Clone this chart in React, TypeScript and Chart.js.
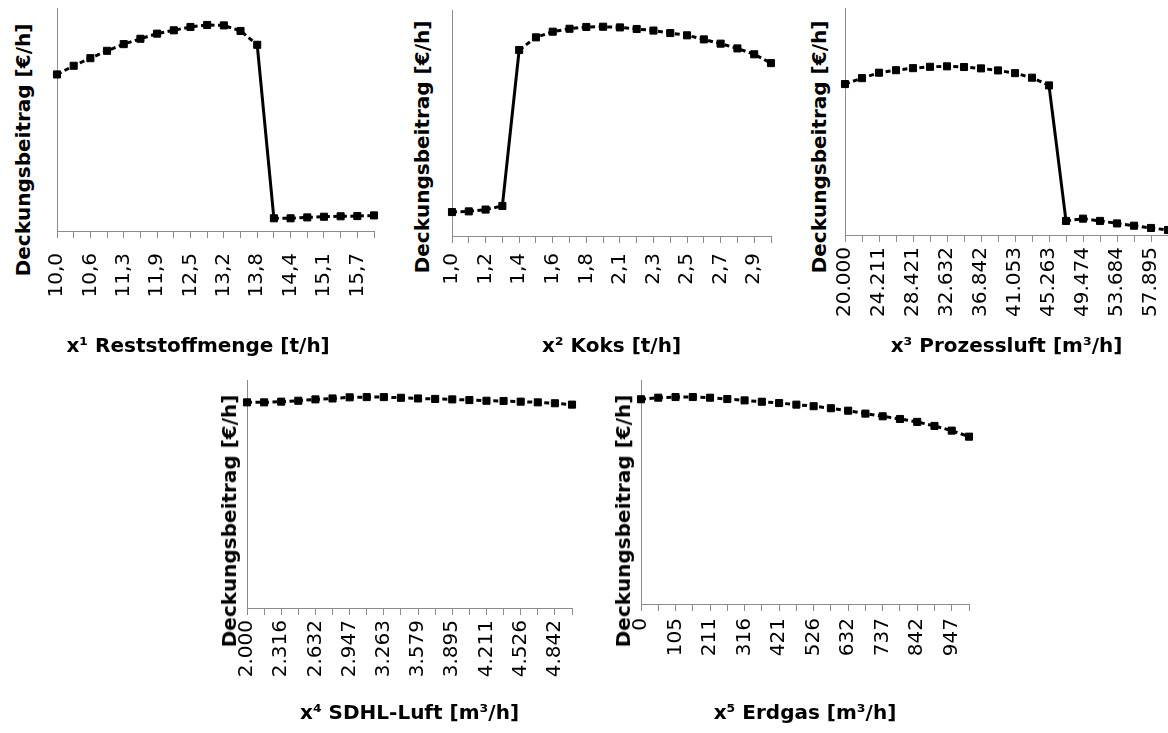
import React, { useEffect, useRef } from 'react';
import { Chart, registerables } from 'chart.js';

Chart.register(...registerables);

// ---------- data ----------
const reststoffLabels = ['10,0', '10,3', '10,6', '10,9', '11,3', '11,6', '11,9', '12,2', '12,5', '12,8', '13,2', '13,5', '13,8', '14,1', '14,4', '14,7', '15,1', '15,4', '15,7', '16,0'];
const reststoffValues = [70.2, 74.1, 77.5, 80.8, 83.8, 86.2, 88.5, 90.0, 91.5, 92.4, 92.2, 89.7, 83.5, 5.7, 5.7, 6.1, 6.4, 6.6, 6.7, 7.0];

const koksLabels = ['1,0', '1,1', '1,2', '1,3', '1,4', '1,5', '1,6', '1,7', '1,8', '1,9', '2,1', '2,2', '2,3', '2,4', '2,5', '2,6', '2,7', '2,8', '2,9', '3,0'];
const koksValues = [10.6, 10.9, 11.7, 13.3, 82.3, 87.9, 90.4, 91.7, 92.5, 92.6, 92.3, 91.6, 90.9, 89.8, 88.8, 87.0, 85.1, 83.0, 80.4, 76.5];

const prozessluftLabels = ['20.000', '22.105', '24.211', '26.316', '28.421', '30.526', '32.632', '34.737', '36.842', '38.947', '41.053', '43.158', '45.263', '47.368', '49.474', '51.579', '53.684', '55.789', '57.895', '60.000'];
const prozessluftValues = [66.5, 69.1, 71.5, 72.6, 73.5, 74.1, 74.3, 74.0, 73.4, 72.5, 71.3, 69.3, 65.9, 6.2, 7.2, 6.2, 5.1, 4.1, 3.1, 2.2];

const sdhlLabels = ['2.000', '2.158', '2.316', '2.474', '2.632', '2.789', '2.947', '3.105', '3.263', '3.421', '3.579', '3.737', '3.895', '4.053', '4.211', '4.368', '4.526', '4.684', '4.842', '5.000'];
const sdhlValues = [90.2, 90.2, 90.5, 90.9, 91.5, 91.9, 92.4, 92.5, 92.5, 92.2, 91.9, 91.7, 91.5, 91.2, 90.9, 90.8, 90.5, 90.2, 89.8, 89.2];

const erdgasLabels = ['0', '53', '105', '158', '211', '263', '316', '368', '421', '474', '526', '579', '632', '684', '737', '789', '842', '895', '947', '1.000'];
const erdgasValues = [91.4, 92.1, 92.4, 92.4, 92.1, 91.5, 90.9, 90.3, 89.7, 89.0, 88.3, 87.4, 86.3, 85.0, 83.8, 82.6, 81.3, 79.5, 77.4, 74.7];

const yTitle = 'Deckungsbeitrag [€/h]';

// ---------- styles ----------
const AXIS = '#8c8c8c';
const DASH = [5, 3.5];
const FONT = 'DejaVu Sans';

type PanelProps = {
  labels: string[];
  values: number[];
  jump: number;
  xTitle: string;
  L: number; T: number; R: number; B: number; Xc: number;
  tickPad: number;
};

function Panel({ labels, values, jump, xTitle, L, T, R, B, Xc, tickPad }: PanelProps) {
  const ref = useRef<HTMLCanvasElement>(null);
  const left = L - 10;
  const top = T;
  const width = R - L + 20;
  const height = Xc + 16 - T;

  useEffect(() => {
    const chart = new Chart(ref.current as HTMLCanvasElement, {
      type: 'line',
      data: {
        labels,
        datasets: [
          {
            data: values,
            borderColor: '#000',
            backgroundColor: '#000',
            borderWidth: 3,
            borderDash: DASH,
            segment: {
              borderDash: (c: any) => (c.p0DataIndex === jump ? [] : DASH),
            },
            pointStyle: 'rect',
            pointRadius: 5,
            pointBorderWidth: 1,
            pointBackgroundColor: '#000',
            pointBorderColor: '#000',
            clip: false,
            tension: 0,
            fill: false,
          } as any,
        ],
      },
      options: {
        responsive: false,
        animation: false,
        devicePixelRatio: 1,
        events: [],
        layout: { autoPadding: false, padding: { left: 10, right: 10, top: 0, bottom: 0 } },
        plugins: { legend: { display: false }, tooltip: { enabled: false } },
        scales: {
          x: {
            type: 'category',
            offset: false,
            grid: { display: true, drawOnChartArea: false, drawTicks: true, tickLength: 7, color: AXIS, lineWidth: 1 },
            border: { display: true, color: AXIS, width: 1 },
            ticks: {
              autoSkip: false,
              minRotation: 90,
              maxRotation: 90,
              padding: tickPad,
              color: '#000',
              font: { family: FONT, size: 20 },
              callback: (_v: any, i: number) => (i % 2 === 0 ? labels[i] : ''),
            },
            title: {
              display: true,
              text: xTitle,
              color: '#000',
              font: { family: FONT, size: 20, weight: 'bold' },
              padding: { top: 0, bottom: 4 },
            },
            afterFit: (s: any) => {
              s.paddingLeft = 0;
              s.paddingRight = 0;
              s.height = Xc + 16 - B;
            },
          },
          y: {
            min: 0,
            max: 100,
            ticks: { display: false },
            grid: { display: false, drawTicks: false },
            border: { display: true, color: AXIS, width: 1 },
            afterFit: (s: any) => {
              s.width = 0;
            },
          },
        },
      } as any,
    });
    return () => chart.destroy();
  }, []);

  return (
    <canvas
      ref={ref}
      width={width}
      height={height}
      style={{ position: 'absolute', left, top, width, height }}
    />
  );
}

function YTitle({ cx, cy }: { cx: number; cy: number }) {
  return (
    <div
      style={{
        position: 'absolute',
        left: cx,
        top: cy,
        transform: 'translate(-50%, -50%) rotate(-90deg)',
        whiteSpace: 'nowrap',
        fontFamily: FONT,
        fontWeight: 'bold',
        fontSize: 20,
        lineHeight: '24px',
        color: '#000',
      }}
    >
      {yTitle}
    </div>
  );
}

export default function App() {
  return (
    <div
      style={{
        position: 'absolute',
        left: 0,
        top: 0,
        width: 1168,
        height: 733,
        overflow: 'hidden',
        background: '#fff',
      }}
    >
      <Panel labels={reststoffLabels} values={reststoffValues} jump={12} xTitle="x¹ Reststoffmenge [t/h]     " L={57} T={8} R={374} B={231} Xc={347} tickPad={15} />
      <Panel labels={koksLabels} values={koksValues} jump={3} xTitle="x² Koks [t/h]" L={452} T={10} R={771} B={236} Xc={347} tickPad={10} />
      <Panel labels={prozessluftLabels} values={prozessluftValues} jump={12} xTitle="x³ Prozessluft [m³/h]" L={845} T={8} R={1168} B={235} Xc={347} tickPad={5} />
      <Panel labels={sdhlLabels} values={sdhlValues} jump={-1} xTitle="x⁴ SDHL-Luft [m³/h]" L={247} T={380} R={572} B={608} Xc={714} tickPad={5} />
      <Panel labels={erdgasLabels} values={erdgasValues} jump={-1} xTitle="x⁵ Erdgas [m³/h]" L={641} T={380} R={969} B={604} Xc={714} tickPad={7} />
      <YTitle cx={23} cy={150} />
      <YTitle cx={422} cy={147} />
      <YTitle cx={819} cy={147} />
      <YTitle cx={229} cy={521} />
      <YTitle cx={623} cy={521} />
    </div>
  );
}
